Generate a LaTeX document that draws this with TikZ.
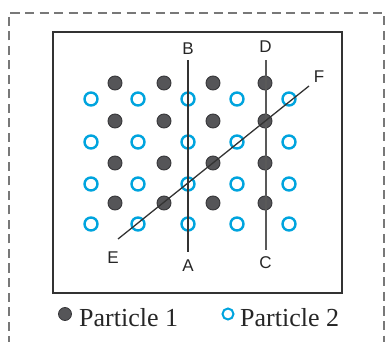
\documentclass[tikz,border=0pt]{standalone}
\usepackage{fontspec}
\setmainfont{Liberation Serif}
\newfontfamily\labfont{Liberation Sans}
\definecolor{pcyan}{RGB}{0,164,222}
\definecolor{pdark}{RGB}{85,85,88}
\definecolor{pedge}{RGB}{55,55,58}
\definecolor{framegray}{RGB}{120,120,120}
\begin{document}
\begin{tikzpicture}[x=1pt,y=-1pt,
  pone/.style={circle,fill=pdark,draw=pedge,line width=0.9pt,minimum size=14pt,inner sep=0pt},
  ptwo/.style={circle,draw=pcyan,line width=2.4pt,minimum size=13pt,inner sep=0pt},
  lab/.style={font=\labfont\fontsize{17}{17}\selectfont,text=black!85,inner sep=0pt},
  legtext/.style={font=\fontsize{26}{26}\selectfont,text=black!85,inner sep=0pt,anchor=base west}]
\useasboundingbox (0,0) rectangle (386,342);
% outer dashed frame
\draw[framegray,line width=1.5pt,dash pattern=on 9pt off 5.5pt] (9,345) -- (9,13) -- (384,13) -- (384,345);
% inner frame
\draw[black!80,line width=1.6pt] (53,32) rectangle (342,293);
% particle 2 (open cyan)
\foreach \x [count=\i] in {91,138,188,237,289}
  \foreach \y [count=\j] in {99,142,184,224}
    \node[ptwo] (q\i\j) at (\x,\y) {};
% particle 1 (filled dark)
\foreach \x [count=\i] in {115,164,213,265}
  \foreach \y [count=\j] in {83,121,163,203}
    \node[pone] (p\i\j) at (\x,\y) {};
% line labels
\node[lab] (B) at (188,49) {B};
\node[lab] (A) at (188,266) {A};
\node[lab] (D) at (265.5,47) {D};
\node[lab] (C) at (265.5,263) {C};
\node[lab] (E) at (113,258) {E};
\node[lab] (F) at (319,77) {F};
\coordinate (Bt) at (188,60);
\coordinate (Ab) at (188,252);
\coordinate (Dt) at (265.5,60);
\coordinate (Cb) at (265.5,250);
\coordinate (Ee) at (118,239);
\coordinate (Fe) at (309,86);
\draw[black!80,line width=1.4pt] (Ab) -- (Bt);
\draw[black!65,line width=2pt] (Cb) -- (Dt);
\draw[black!80,line width=1.3pt] (Ee) -- (Fe);
% legend
\node[circle,fill=pdark,draw=pedge,line width=0.8pt,minimum size=13pt,inner sep=0pt] (l1) at (65,314) {};
\node[legtext] (t1) at (79,326) {Particle 1};
\node[circle,draw=pcyan,line width=2pt,minimum size=11pt,inner sep=0pt] (l2) at (228,314) {};
\node[legtext] (t2) at (240,326) {Particle 2};
\end{tikzpicture}
\end{document}
